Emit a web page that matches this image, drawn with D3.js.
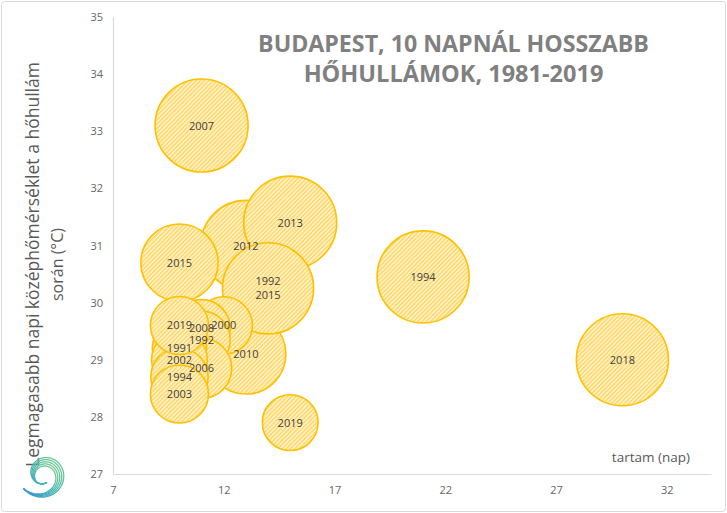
<!DOCTYPE html>
<html><head><meta charset="utf-8">
<script src="https://cdn.jsdelivr.net/npm/d3@7"></script>
<style>body{margin:0;background:#fff}svg{display:block}</style>
</head><body>
<svg id="c" width="727" height="513"></svg>
<script>
// ---- data (draw order: back to front) ----
const labels = ["2007","1994","2018","2012","2013","2015","2010","1992\n2015","2000","2008","1992","2006","1991","2002","1994","2003","2019","2019"];
const days   = [11, 21, 30, 13, 15, 10, 13, 14, 12, 11, 11, 11, 10, 10, 10, 10, 10, 15];
const temps  = [33.1, 30.45, 29.0, 31.0, 31.4, 30.7, 29.1, 30.25, 29.6, 29.55, 29.35, 28.85, 29.2, 29.0, 28.7, 28.4, 29.6, 27.9];
const sizes  = [100, 98, 98, 94, 100, 69, 74, 96, 38, 38, 38, 42, 34, 36, 38, 39, 39, 36];
const xTicks = [7, 12, 17, 22, 27, 32];
const yTicks = [27, 28, 29, 30, 31, 32, 33, 34, 35];
const titleLines = ["BUDAPEST, 10 NAPNÁL HOSSZABB", "HŐHULLÁMOK, 1981-2019"];
const yTitleLines = ["Legmagasabb napi középhőmérséklet  a hőhullám", "során (°C)"];
const xTitle = "tartam (nap)";

const svg = d3.select("#c");
const W = 727, H = 513;
const font = "'Open Sans', sans-serif";

// border
svg.append("rect").attr("x",1.5).attr("y",1.5).attr("width",W-3).attr("height",H-3)
  .attr("rx",3).attr("fill","#fff").attr("stroke","#d9d9d9").attr("stroke-width",1);

const x = d3.scaleLinear().domain([7, 34]).range([113, 711]);
const y = d3.scaleLinear().domain([27, 35]).range([474, 17]);
const r = d3.scaleSqrt().domain([0, 100]).range([0, 46.5]);

// hatch pattern
const defs = svg.append("defs");
const pat = defs.append("pattern").attr("id","hatch").attr("patternUnits","userSpaceOnUse")
  .attr("width",3).attr("height",3).attr("patternTransform","rotate(45)");
pat.append("rect").attr("width",3).attr("height",3).attr("fill","#fff7dc");
pat.append("rect").attr("width",1.5).attr("height",3).attr("fill","#ffd45a");

// axes
const gx = svg.append("g").attr("transform","translate(0,474)")
  .call(d3.axisBottom(x).tickValues(xTicks).tickSize(0).tickPadding(12));
const gy = svg.append("g").attr("transform","translate(113,0)")
  .call(d3.axisLeft(y).tickValues(yTicks).tickSize(0).tickPadding(10));
[gx, gy].forEach(g => {
  g.select(".domain").attr("stroke","#d9d9d9").attr("stroke-width",1.2);
  g.selectAll("text").attr("font-family",font).attr("font-size",11).attr("fill","#666");
});

// bubbles
const pts = labels.map((l,i)=>({l, x:days[i], y:temps[i], s:sizes[i]}));
svg.append("g").selectAll("circle").data(pts).join("circle")
  .attr("cx",d=>x(d.x)).attr("cy",d=>y(d.y)).attr("r",d=>r(d.s))
  .attr("fill","url(#hatch)").attr("stroke","#ffc000").attr("stroke-width",1.6);

// labels
const lg = svg.append("g").attr("font-family",font).attr("font-size",11).attr("fill","#404040")
  .attr("text-anchor","middle");
pts.forEach(d => {
  const lines = d.l.split("\n");
  const t = lg.append("text").attr("x",x(d.x)).attr("y",y(d.y));
  lines.forEach((ln,k)=>{
    t.append("tspan").attr("x",x(d.x))
      .attr("dy", k===0 ? ((-(lines.length-1)*14/2)+4)+"px" : "14px").text(ln);
  });
});

// title
const tt = svg.append("g").attr("font-family",font).attr("font-weight",700)
  .attr("font-size",22).attr("fill","#808080").attr("text-anchor","middle");
const titleW = [391, 300];
titleLines.forEach((s,i)=>{
  const t = tt.append("text").attr("x",453.5).attr("y",52 + i*30).text(s);
  const L = t.node().getComputedTextLength();
  t.attr("font-size", 22*titleW[i]/L);
});

// y title
const yt = svg.append("g").attr("font-family",font).attr("font-size",16).attr("fill","#595959")
  .attr("text-anchor","middle");
yTitleLines.forEach((s,i)=>{
  const t = yt.append("text").attr("transform",`translate(${39 + i*24},264.5) rotate(-90)`).text(s);
  if(i===0){
    const L = t.node().getComputedTextLength();
    t.attr("font-size", 16*405/L);
  }
});

// x title
svg.append("text").attr("x",690).attr("y",462).attr("text-anchor","end")
  .attr("font-family",font).attr("font-size",13.5).attr("fill","#595959").text(xTitle);

// logo spiral (decoration)
const grad = defs.append("linearGradient").attr("id","lg").attr("x1","100%").attr("y1","0%").attr("x2","0%").attr("y2","100%");
grad.append("stop").attr("offset","0%").attr("stop-color","#7ccf8c");
grad.append("stop").attr("offset","55%").attr("stop-color","#45b3b5");
grad.append("stop").attr("offset","100%").attr("stop-color","#3b93d6");
const cx = 44, cy = 474;
const t0 = 2.5, t1 = -5.0;
const logo = svg.append("g");
for (let k = 0; k < 5; k++) {
  const p = d3.range(0, 1.0001, 0.01).map(u => {
    const th = t0 + (t1 - t0) * u;
    const rad = 25 - 16 * u;
    const w = 9 * Math.sin(Math.PI * Math.min(1, u * 1.15));
    const rr = rad - k * w / 4;
    return [cx + rr * Math.cos(th), cy + rr * Math.sin(th)];
  });
  logo.append("path").attr("d", d3.line()(p)).attr("fill","none")
    .attr("stroke","url(#lg)").attr("stroke-width",1.3).attr("stroke-linecap","round");
}
</script>
</body></html>
